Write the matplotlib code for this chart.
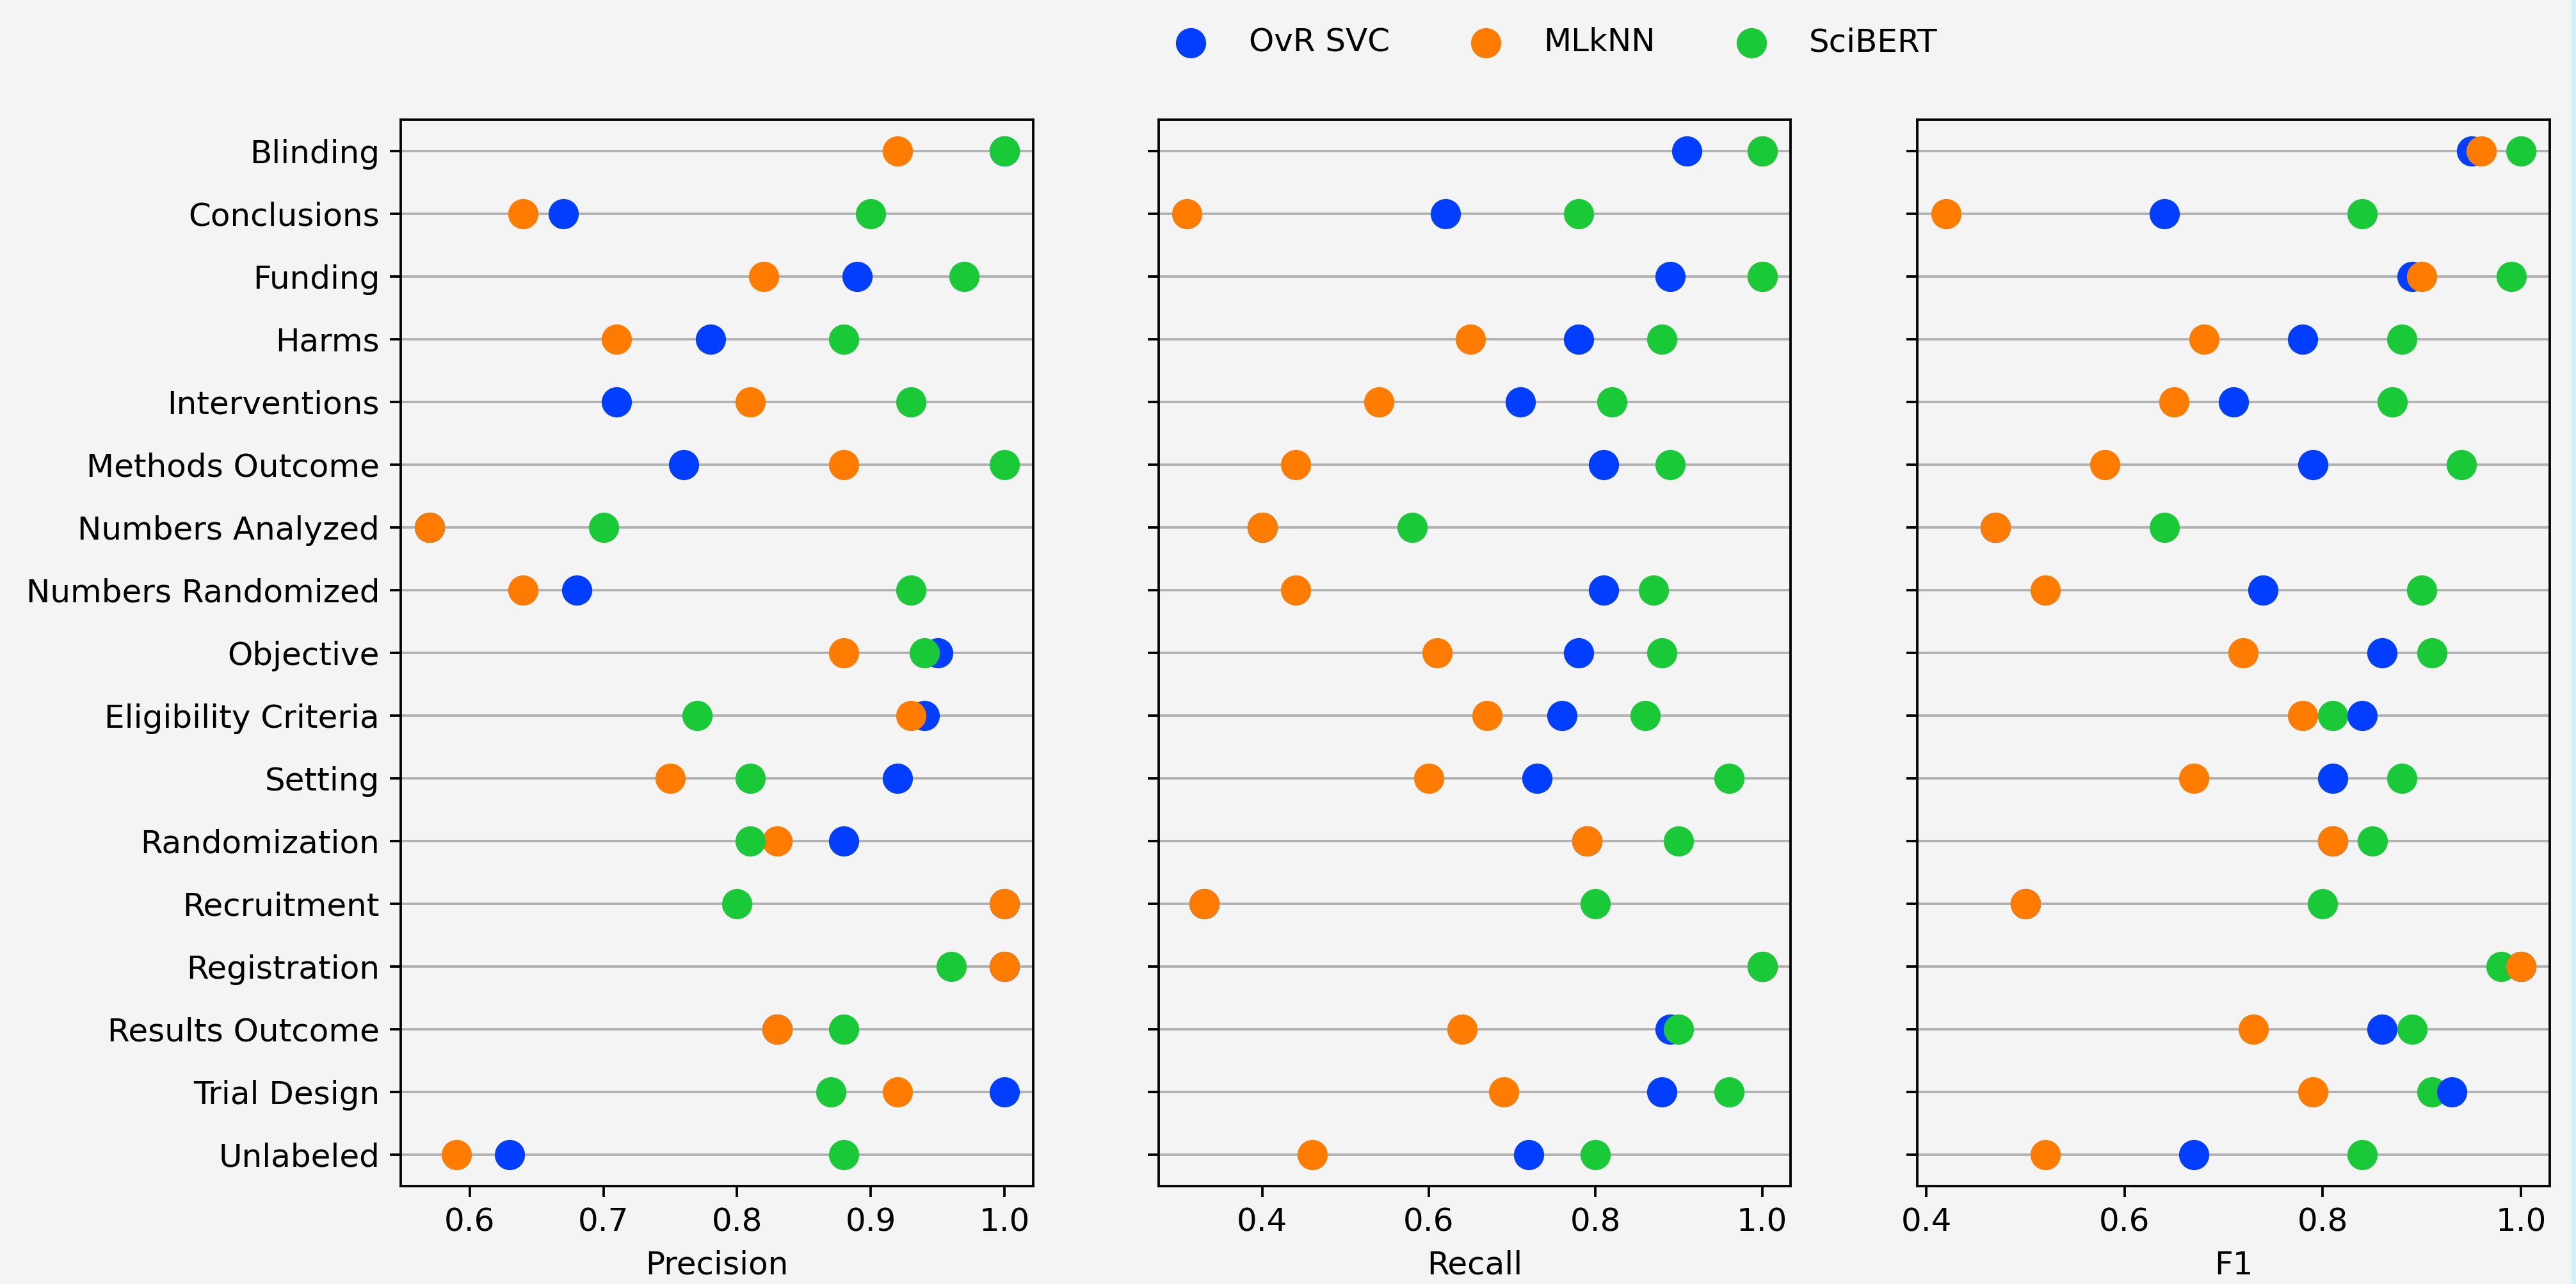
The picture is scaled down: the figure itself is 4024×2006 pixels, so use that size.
import matplotlib.pyplot as plt
from matplotlib.patches import Rectangle

categories = ["Blinding", "Conclusions", "Funding", "Harms", "Interventions",
              "Methods Outcome", "Numbers Analyzed", "Numbers Randomized",
              "Objective", "Eligibility Criteria", "Setting", "Randomization",
              "Recruitment", "Registration", "Results Outcome", "Trial Design",
              "Unlabeled"]
models = ["OvR SVC", "MLkNN", "SciBERT"]
colors = ["#023eff", "#ff7c00", "#1ac938"]

precision_svc = [1.00, 0.67, 0.89, 0.78, 0.71, 0.76, 0.57, 0.68, 0.95, 0.94, 0.92, 0.88, 1.00, 1.00, 0.83, 1.00, 0.63]
precision_mlknn = [0.92, 0.64, 0.82, 0.71, 0.81, 0.88, 0.57, 0.64, 0.88, 0.93, 0.75, 0.83, 1.00, 1.00, 0.83, 0.92, 0.59]
precision_scibert = [1.00, 0.90, 0.97, 0.88, 0.93, 1.00, 0.70, 0.93, 0.94, 0.77, 0.81, 0.81, 0.80, 0.96, 0.88, 0.87, 0.88]

recall_svc = [0.91, 0.62, 0.89, 0.78, 0.71, 0.81, 0.40, 0.81, 0.78, 0.76, 0.73, 0.79, 0.33, 1.00, 0.89, 0.88, 0.72]
recall_mlknn = [1.00, 0.31, 1.00, 0.65, 0.54, 0.44, 0.40, 0.44, 0.61, 0.67, 0.60, 0.79, 0.33, 1.00, 0.64, 0.69, 0.46]
recall_scibert = [1.00, 0.78, 1.00, 0.88, 0.82, 0.89, 0.58, 0.87, 0.88, 0.86, 0.96, 0.90, 0.80, 1.00, 0.90, 0.96, 0.80]

f1_svc = [0.95, 0.64, 0.89, 0.78, 0.71, 0.79, 0.47, 0.74, 0.86, 0.84, 0.81, 0.81, 0.50, 1.00, 0.86, 0.93, 0.67]
f1_mlknn = [0.96, 0.42, 0.90, 0.68, 0.65, 0.58, 0.47, 0.52, 0.72, 0.78, 0.67, 0.81, 0.50, 1.00, 0.73, 0.79, 0.52]
f1_scibert = [1.00, 0.84, 0.99, 0.88, 0.87, 0.94, 0.64, 0.90, 0.91, 0.81, 0.88, 0.85, 0.80, 0.98, 0.89, 0.91, 0.84]

metrics = ["Precision", "Recall", "F1"]
scores = [
    [precision_svc, precision_mlknn, precision_scibert],
    [recall_svc, recall_mlknn, recall_scibert],
    [f1_svc, f1_mlknn, f1_scibert],
]
xticks = [
    [0.6, 0.7, 0.8, 0.9, 1.0],
    [0.4, 0.6, 0.8, 1.0],
    [0.4, 0.6, 0.8, 1.0],
]
# which model gets drawn first in each panel (later ones sit on top)
draw_order = [[0, 1, 2], [0, 1, 2], [2, 0, 1]]

plt.rcParams["font.size"] = 10.6
bg = "#f4f4f4"
fig = plt.figure(figsize=(11.8353, 5.9), dpi=340, facecolor=bg)
lefts = [0.1556, 0.4497, 0.7443]

for i, metric in enumerate(metrics):
    ax = fig.add_axes([lefts[i], 0.0763, 0.2455, 0.8305], facecolor=bg)
    # empty call keeps the category order top to bottom
    ax.scatter([None] * len(categories), categories, s=0)
    for k in draw_order[i]:
        ax.scatter(scores[i][k], categories, s=100, color=colors[k],
                   linewidths=0, label=models[k], zorder=3)
    ax.set_ylim(len(categories) - 0.5, -0.5)
    ax.set_xticks(xticks[i])
    ax.grid(axis="y", color="#b0b0b0", linewidth=0.8)
    ax.set_axisbelow(True)
    ax.set_xlabel(metric)
    if i > 0:
        ax.tick_params(axis="y", labelleft=False)
    if i == 0:
        handles, labels = ax.get_legend_handles_labels()

fig.legend(handles, labels, loc="center", bbox_to_anchor=(0.601, 0.967),
           ncol=3, frameon=False)

# thin strip at the right edge of the original screenshot
fig.add_artist(Rectangle((1 - 7 / 4024, 0), 7 / 4024, 1,
                         transform=fig.transFigure, color="#d0f0fa", linewidth=0))

fig.savefig("out.png", dpi=340, facecolor=bg)
